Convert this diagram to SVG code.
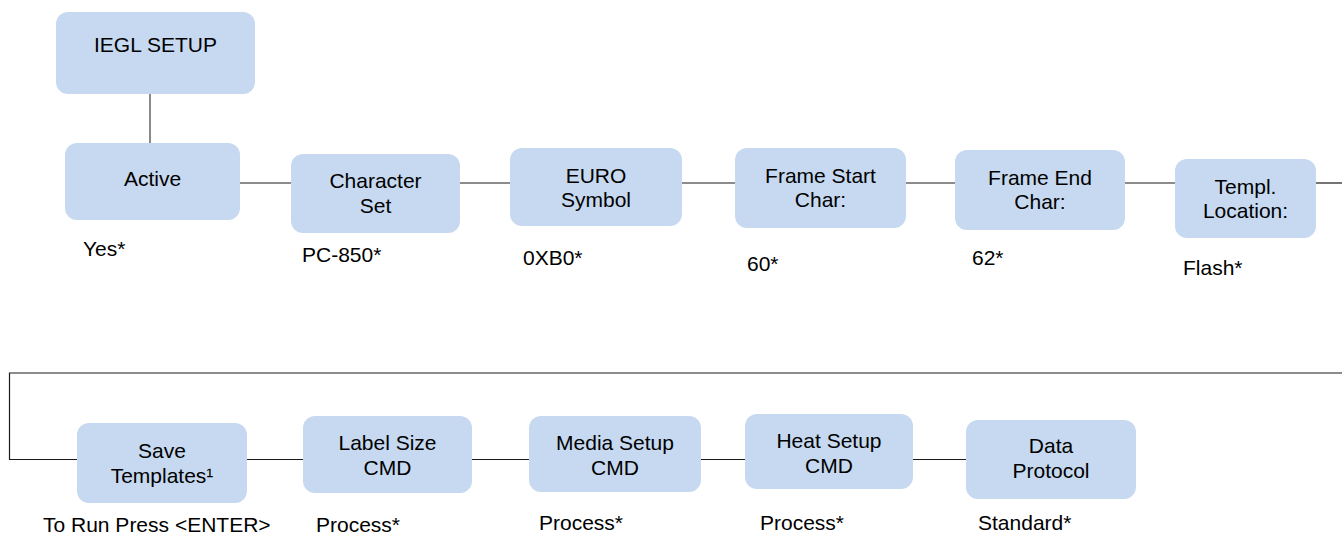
<svg xmlns="http://www.w3.org/2000/svg" width="1342" height="535" viewBox="0 0 1342 535">
<style>
.box{fill:#c6d9f0;stroke:none}
text{font-family:"Liberation Sans",Arial,sans-serif;font-size:21px;fill:#000}
.c{text-anchor:middle}
.ln{stroke:#1a1a1a;stroke-width:1.2;fill:none}
</style>
<rect width="1342" height="535" fill="#fff"/>
<g id="connectors">
<line x1="150" y1="94" x2="150" y2="143" stroke="#595959" stroke-width="1.4"/>
<line class="ln" x1="240" y1="183" x2="291" y2="183"/>
<line class="ln" x1="460" y1="183" x2="510" y2="183"/>
<line class="ln" x1="682" y1="183" x2="735" y2="183"/>
<line class="ln" x1="906" y1="183" x2="955" y2="183"/>
<line class="ln" x1="1125" y1="183" x2="1175" y2="183"/>
<line class="ln" x1="1316" y1="183" x2="1342" y2="183"/>
<polyline class="ln" points="1342,373 9.5,373 9.5,459.5 77,459.5"/>
<line class="ln" x1="247" y1="459.5" x2="303" y2="459.5"/>
<line class="ln" x1="472" y1="459.5" x2="529" y2="459.5"/>
<line class="ln" x1="701" y1="459.5" x2="745" y2="459.5"/>
<line class="ln" x1="913" y1="459.5" x2="966" y2="459.5"/>
</g>
<g id="iegl-setup"><rect class="box" x="56" y="12" width="199" height="82" rx="12"/><text class="c" x="155.5" y="52">IEGL SETUP</text></g>
<g id="active"><rect class="box" x="65" y="143" width="175" height="77" rx="12"/><text class="c" x="152.5" y="186">Active</text><text x="83" y="256">Yes*</text></g>
<g id="character-set"><rect class="box" x="291" y="154" width="169" height="79" rx="12"/><text class="c" x="375.5" y="188">Character</text><text class="c" x="375.5" y="213">Set</text><text x="302" y="262">PC-850*</text></g>
<g id="euro-symbol"><rect class="box" x="510" y="148" width="172" height="78" rx="12"/><text class="c" x="596" y="183">EURO</text><text class="c" x="596" y="207">Symbol</text><text x="523" y="265">0XB0*</text></g>
<g id="frame-start"><rect class="box" x="735" y="148" width="171" height="80" rx="12"/><text class="c" x="820.5" y="183">Frame Start</text><text class="c" x="820.5" y="207">Char:</text><text x="747" y="271">60*</text></g>
<g id="frame-end"><rect class="box" x="955" y="150" width="170" height="80" rx="12"/><text class="c" x="1040" y="185">Frame End</text><text class="c" x="1040" y="209">Char:</text><text x="972" y="265">62*</text></g>
<g id="templ-location"><rect class="box" x="1175" y="159" width="141" height="79" rx="12"/><text class="c" x="1245.5" y="194">Templ.</text><text class="c" x="1245.5" y="218">Location:</text><text x="1183" y="275">Flash*</text></g>
<g id="save-templates"><rect class="box" x="77" y="423" width="170" height="80" rx="12"/><text class="c" x="162" y="458">Save</text><text class="c" x="162" y="483">Templates¹</text><text x="43" y="532">To Run Press &lt;ENTER&gt;</text></g>
<g id="label-size"><rect class="box" x="303" y="416" width="169" height="77" rx="12"/><text class="c" x="387.5" y="450">Label Size</text><text class="c" x="387.5" y="475">CMD</text><text x="316" y="532">Process*</text></g>
<g id="media-setup"><rect class="box" x="529" y="416" width="172" height="76" rx="12"/><text class="c" x="615" y="450">Media Setup</text><text class="c" x="615" y="475">CMD</text><text x="539" y="530">Process*</text></g>
<g id="heat-setup"><rect class="box" x="745" y="414" width="168" height="75" rx="12"/><text class="c" x="829" y="448">Heat Setup</text><text class="c" x="829" y="473">CMD</text><text x="760" y="530">Process*</text></g>
<g id="data-protocol"><rect class="box" x="966" y="420" width="170" height="79" rx="12"/><text class="c" x="1051" y="453">Data</text><text class="c" x="1051" y="478">Protocol</text><text x="978" y="530">Standard*</text></g>
</svg>
